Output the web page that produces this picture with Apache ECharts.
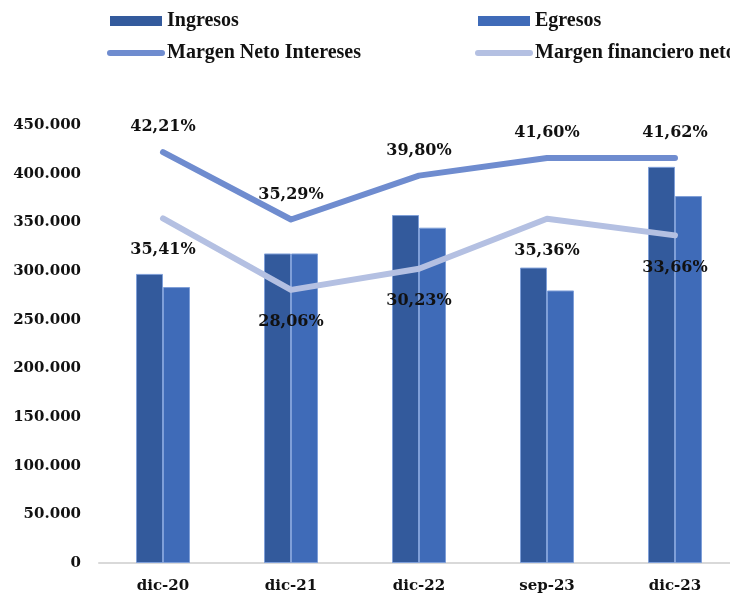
<!DOCTYPE html>
<html><head><meta charset="utf-8">
<script src="https://cdn.jsdelivr.net/npm/echarts@6/dist/echarts.min.js"></script>
<style>html,body{margin:0;padding:0;background:#fff}#c{width:730px;height:596px}</style>
</head><body><div id="c"></div>
<script>
const categories = ['dic-20','dic-21','dic-22','sep-23','dic-23'];
const ingresos = [297000, 318000, 357500, 303500, 407000];
const egresos = [283500, 318000, 344500, 280000, 377000];
const margenNeto = [42.21, 35.29, 39.80, 41.60, 41.62];
const margenFin = [35.41, 28.06, 30.23, 35.36, 33.66];
const yTicks = {min: 0, max: 450000, interval: 50000};

const chart = echarts.init(document.getElementById('c'));
const serif = '"DejaVu Serif", serif';
const legendFont = {fontFamily: '"Liberation Serif", serif', fontWeight: 'bold', fontSize: 20, color: '#111', lineHeight: 20};
const pctFmt = p => p.value.toFixed(2).replace('.', ',') + '%';
const legendCommon = {top: 11, orient: 'vertical', padding: 0, itemWidth: 52, itemHeight: 10, itemGap: 12,
  textStyle: legendFont, lineStyle: {width: 6, cap: 'round'}};
const barIcon = 'rect';
chart.setOption({
  animation: false,
  legend: [
    Object.assign({left: 107, data: [{name: 'Ingresos', icon: barIcon, itemStyle: {borderWidth: 0}}, 'Margen Neto Intereses']}, legendCommon),
    Object.assign({left: 475, data: [{name: 'Egresos', icon: barIcon, itemStyle: {borderWidth: 0}}, 'Margen financiero neto']}, legendCommon)
  ],
  grid: {left: 99, width: 640, top: 125, bottom: 33, containLabel: false, outerBoundsMode: 'none'},
  xAxis: {type: 'category', data: categories,
    axisLine: {lineStyle: {color: '#d9d9d9', width: 2}}, axisTick: {show: false},
    axisLabel: {fontFamily: serif, fontWeight: 'bold', fontSize: 15, color: '#111', margin: 16}},
  yAxis: [
    {type: 'value', min: yTicks.min, max: yTicks.max, interval: yTicks.interval,
     splitLine: {show: false}, axisLine: {show: false}, axisTick: {show: false},
     axisLabel: {fontFamily: serif, fontWeight: 'bold', fontSize: 15, color: '#111', margin: 18,
       formatter: v => v === 0 ? '0' : v.toLocaleString('de-DE')}},
    {type: 'value', min: 0, max: 45, show: false, splitLine: {show: false}}
  ],
  series: [
    {name: 'Ingresos', type: 'bar', data: ingresos, barWidth: 27, barGap: '0%',
     itemStyle: {color: '#335a9c', borderColor: '#7f9fd8', borderWidth: 1}},
    {name: 'Egresos', type: 'bar', data: egresos, barWidth: 27, barGap: '0%',
     itemStyle: {color: '#3f6bb8', borderColor: '#7f9fd8', borderWidth: 1}},
    {name: 'Margen Neto Intereses', type: 'line', yAxisIndex: 1, data: margenNeto,
     symbol: 'circle', symbolSize: 0, lineStyle: {color: '#6f8ccf', width: 6, cap: 'round', join: 'round'},
     itemStyle: {color: '#6f8ccf', opacity: 0},
     label: {show: true, position: 'top', distance: 17, formatter: pctFmt, opacity: 1,
       fontFamily: serif, fontWeight: 'bold', fontSize: 16, color: '#111'}},
    {name: 'Margen financiero neto', type: 'line', yAxisIndex: 1, data: margenFin,
     symbol: 'circle', symbolSize: 0, lineStyle: {color: '#b4c0e2', width: 6, cap: 'round', join: 'round'},
     itemStyle: {color: '#b4c0e2', opacity: 0},
     label: {show: true, position: 'bottom', distance: 24, formatter: pctFmt, opacity: 1,
       fontFamily: serif, fontWeight: 'bold', fontSize: 16, color: '#111'}}
  ]
});
</script></body></html>
